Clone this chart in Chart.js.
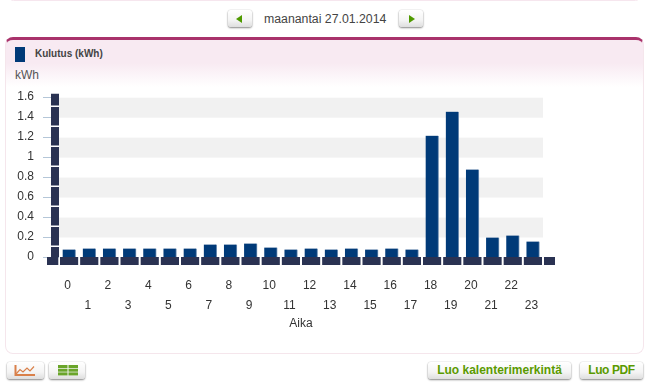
<!DOCTYPE html>
<html><head><meta charset="utf-8">
<script src="https://cdn.jsdelivr.net/npm/chart.js@4"></script>
<style>
html,body{margin:0;padding:0;background:#fff;width:647px;height:392px;overflow:hidden;font-family:"Liberation Sans",Arial,sans-serif;color:#444}
.abs{position:absolute}
#prevcard{left:8px;right:6px;top:-10px;height:11px;border:1px solid #f6e6ee;border-radius:6px;box-sizing:border-box}
#card{left:5px;top:37px;width:639px;height:317px;box-sizing:border-box;border:1px solid #f5e6ec;border-top:3px solid #a9326b;border-radius:8px;background:linear-gradient(#f8eaf2 0,#f8eaf2 23px,#fff 47px,#fff 100%)}
.btn{box-sizing:border-box;height:17px;background:linear-gradient(#fff,#f4f4f4 60%,#dedede);border-radius:3px;box-shadow:0 1px 2px #888,0 0 1px #aaa;text-align:center;color:#5a9a00;font:bold 12px/17px "Liberation Sans",Arial,sans-serif}
#date{left:264px;top:12px;font-size:12.3px;line-height:14px;color:#444;white-space:nowrap}
#kwh{left:15px;top:68px;font-size:12px;line-height:14px;color:#555}
#lgbox{left:15px;top:47px;width:10px;height:15px;background:#003a78}
#lgtext{left:35px;top:48px;font:bold 10px/12px "Liberation Sans",Arial,sans-serif;color:#444;white-space:nowrap}
canvas{position:absolute;left:0;top:0}
</style></head><body>
<div class="abs" id="prevcard"></div>
<div class="abs" id="card"></div>
<div class="abs btn" style="left:228px;top:10px;width:24px"><svg width="24" height="17"><path d="M8 9 L14 5 V13Z" fill="#4f9a00"/></svg></div>
<div class="abs" id="date">maanantai 27.01.2014</div>
<div class="abs btn" style="left:399px;top:10px;width:24px"><svg width="24" height="17"><path d="M16 9 L10 5 V13Z" fill="#4f9a00"/></svg></div>
<div class="abs" id="lgbox"></div>
<div class="abs" id="lgtext">Kulutus (kWh)</div>
<div class="abs" id="kwh">kWh</div>
<div class="abs btn" style="left:7px;top:362px;width:37px"><svg width="37" height="17"><path d="M8.500 3V13H28" fill="none" stroke="#d9804a" stroke-width="2"/><path d="M9 12L13 7.500L16 10L20 6L23 9L27 4.500" fill="none" stroke="#d9804a" stroke-width="1.200"/></svg></div>
<div class="abs btn" style="left:49px;top:362px;width:36px"><svg width="36" height="17"><g fill="#6aa52a"><rect x="9" y="3" width="9.500" height="3"/><rect x="9" y="6.700" width="9.500" height="3"/><rect x="9" y="10.400" width="9.500" height="3"/><rect x="19.500" y="3" width="9.500" height="3"/><rect x="19.500" y="6.700" width="9.500" height="3"/><rect x="19.500" y="10.400" width="9.500" height="3"/></g></svg></div>
<div class="abs btn" style="left:428px;top:362px;width:143px">Luo kalenterimerkintä</div>
<div class="abs btn" style="left:580px;top:362px;width:63px;letter-spacing:-0.4px">Luo PDF</div>
<canvas id="c" width="647" height="392"></canvas>
<script>
const hours = ['0','1','2','3','4','5','6','7','8','9','10','11','12','13','14','15','16','17','18','19','20','21','22','23'];
const kulutus = [0.08,0.09,0.09,0.09,0.09,0.09,0.09,0.13,0.13,0.14,0.10,0.08,0.09,0.08,0.09,0.08,0.09,0.08,1.22,1.46,0.88,0.20,0.22,0.16];
const yTickValues = [0,0.2,0.4,0.6,0.8,1,1.2,1.4,1.6];
const seriesName = 'Kulutus (kWh)';
const xTitle = 'Aika';

const decor = {
  id:'decor',
  beforeDatasetsDraw(ch){
    const {ctx,scales:{x,y}} = ch;
    ctx.save(); ctx.fillStyle='#f1f1f1';
    for(let i=yTickValues.length-1;i>0;i-=2){
      const t=y.getPixelForValue(yTickValues[i]), b=y.getPixelForValue(yTickValues[i-1]);
      ctx.fillRect(x.left,t,x.right-x.left,b-t);
    }
    ctx.restore();
  },
  afterDatasetsDraw(ch){
    const {ctx,scales:{x,y}} = ch;
    const step=(x.right-x.left)/hours.length;
    ctx.save(); ctx.strokeStyle='#2a3252'; ctx.lineWidth=8;
    ctx.setLineDash([step-2,2]);
    ctx.beginPath(); ctx.moveTo(x.left+1,y.bottom+3.5); ctx.lineTo(x.right+12,y.bottom+3.5); ctx.stroke();
    ctx.setLineDash([]);
    ctx.beginPath(); ctx.moveTo(x.left-0.7,y.bottom+3.5); ctx.lineTo(x.left-12,y.bottom+3.5); ctx.stroke();
    ctx.setLineDash([18.5,1.5]); ctx.lineDashOffset=8.5;
    ctx.beginPath(); ctx.moveTo(x.left-4,y.bottom-0.5); ctx.lineTo(x.left-4,y.top-4); ctx.stroke();
    ctx.restore();
  }
};

new Chart(document.getElementById('c'),{
  type:'bar',
  data:{labels:hours,datasets:[{label:seriesName,data:kulutus,backgroundColor:'#003a78',
    borderColor:'#6f8fb2',borderWidth:{top:0,right:1,bottom:0,left:0},borderSkipped:false,barThickness:13}]},
  options:{
    responsive:false,animation:false,
    layout:{padding:{left:0,right:104,top:97.7,bottom:61}},
    plugins:{tooltip:{enabled:false},legend:{display:false}},
    scales:{
      x:{
        grid:{display:false},border:{display:false},
        ticks:{autoSkip:false,maxRotation:0,minRotation:0,padding:11,labelOffset:-1.5,color:'#333',
          font:{family:'"Liberation Sans",Arial,sans-serif',size:12,lineHeight:1.6},
          callback(v,i){return i%2===0?[hours[i],'']:['',hours[i]];}},
        title:{display:true,text:xTitle,color:'#333',padding:{top:2,bottom:0},font:{family:'"Liberation Sans",Arial,sans-serif',size:12}},
        afterFit(s){s.height=73.5;}
      },
      y:{
        min:0,max:1.6,
        grid:{drawOnChartArea:false,drawTicks:true,tickLength:16,tickColor:'#b4c6d8',tickWidth:1},border:{display:false},
        afterBuildTicks(s){s.ticks=yTickValues.map(value=>({value}));},
        ticks:{padding:9,labelOffset:-1,color:'#333',font:{family:'"Liberation Sans",Arial,sans-serif',size:12},
          callback(v){return String(v);}},
        afterFit(s){s.width=59;}
      }
    }
  },
  plugins:[decor]
});
</script>
</body></html>
